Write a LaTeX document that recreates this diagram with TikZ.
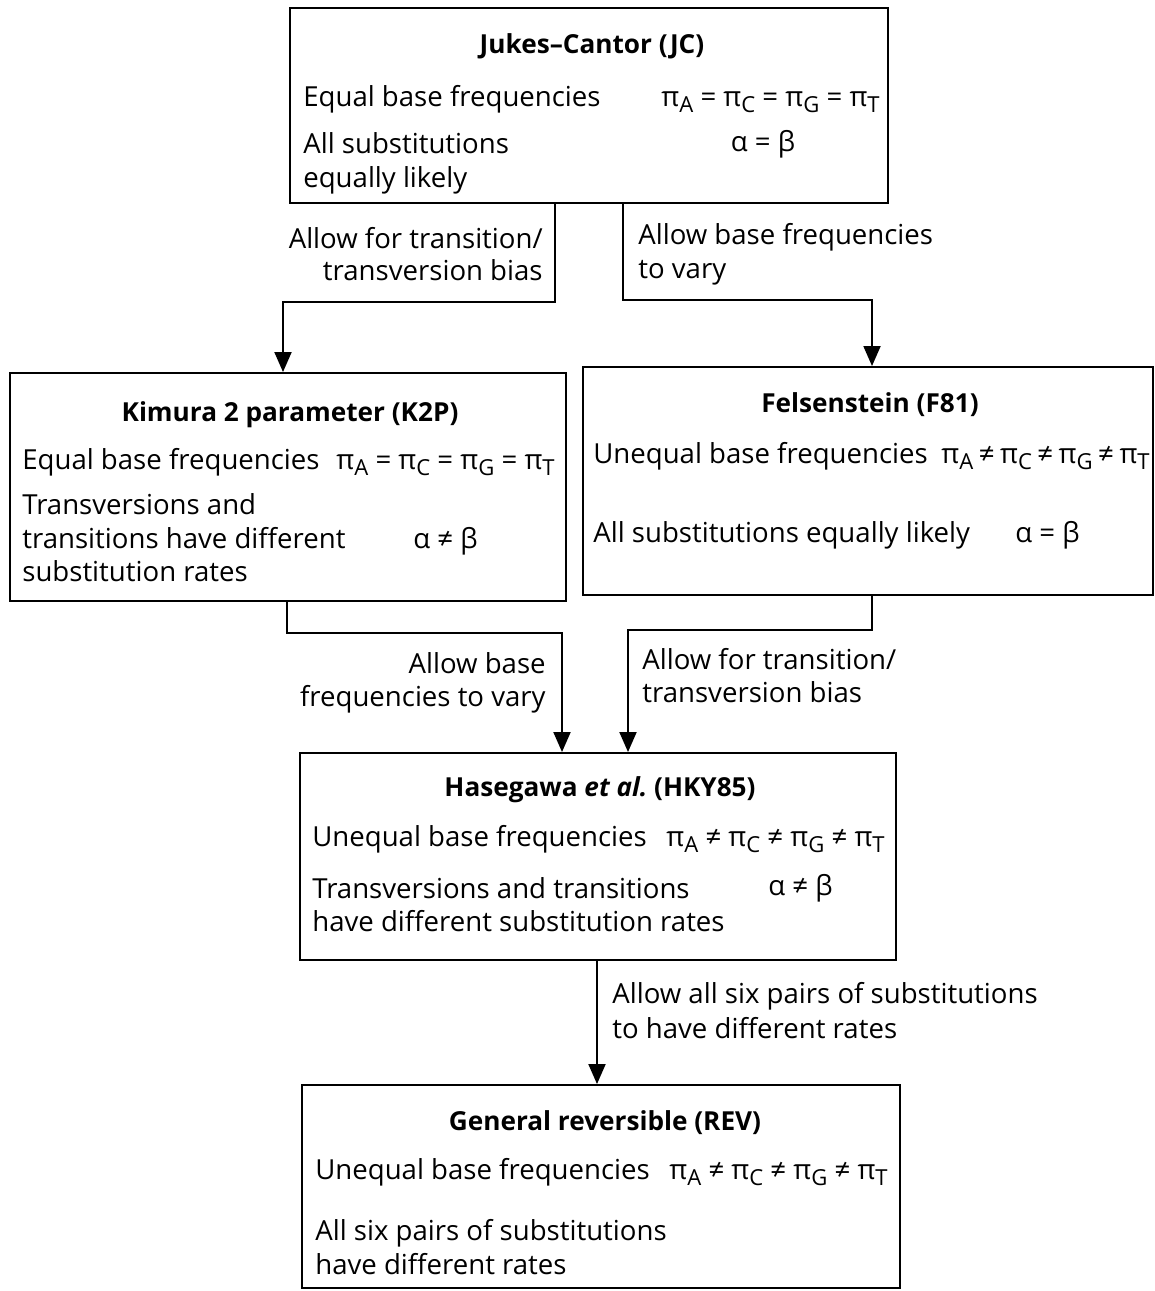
\documentclass[tikz,border=0pt]{standalone}
\usepackage{fontspec}
\usepackage{graphicx}
\setmainfont{Open Sans}
\usetikzlibrary{arrows.meta,fit,calc}
\newcommand{\fs}{\fontsize{15.7}{19}\selectfont}
\newcommand{\fst}{\fontsize{14.9}{19}\selectfont\bfseries}
\newcommand{\pis}[1]{π\raisebox{-0.4ex}{\scalebox{0.8}{#1}}}
\newcommand{\eqf}{\pis{A} = \pis{C} = \pis{G} = \pis{T}}
\newcommand{\neqf}{\pis{A} ≠ \pis{C} ≠ \pis{G} ≠ \pis{T}}
\newcommand{\tsp}{\hspace{0.2em}}
\newcommand{\neqft}{\pis{A}\tsp≠\tsp\pis{C}\tsp≠\tsp\pis{G}\tsp≠\tsp\pis{T}}
\tikzset{
  box/.style={draw, line width=1.1pt, inner sep=0pt},
  txt/.style={inner sep=0pt, font=\fs, anchor=mid west, yshift=-0.08cm},
  rtxt/.style={inner sep=0pt, font=\fs, anchor=mid east, yshift=-0.08cm},
  ctxt/.style={inner sep=0pt, font=\fs, anchor=mid, yshift=-0.08cm},
  ttl/.style={inner sep=0pt, font=\fst, anchor=mid, yshift=-0.08cm},
  conn/.style={line width=1.1pt, -{Triangle[length=0.4cm,width=0.34cm]}},
}
\begin{document}
\begin{tikzpicture}[x=0.02cm,y=-0.02cm]
\useasboundingbox (0,0) rectangle (1155,1291);
% box corners
\coordinate (jc1) at (290,8);   \coordinate (jc2) at (888,203);
\coordinate (k1) at (10,373);   \coordinate (k2) at (566,601);
\coordinate (f1) at (583,367);  \coordinate (f2) at (1153,595);
\coordinate (h1) at (300,753);  \coordinate (h2) at (896,960);
\coordinate (r1) at (302,1085); \coordinate (r2) at (900,1288);
\node[box, fit=(jc1)(jc2)] (jc) {};
\node[box, fit=(k1)(k2)] (k2p) {};
\node[box, fit=(f1)(f2)] (f81) {};
\node[box, fit=(h1)(h2)] (hky) {};
\node[box, fit=(r1)(r2)] (rev) {};
% JC text
\node[ttl] (jct) at (592,45) {Jukes–Cantor (JC)};
\node[txt] (jca) at (303,98) {Equal base frequencies};
\node[rtxt] (jcb) at (880,98) {\eqf};
\node[txt] (jcc) at (303,145) {All substitutions};
\node[txt] (jcd) at (303,179) {equally likely};
\node[ctxt] (jce) at (763,143) {α = β};
% K2P text
\node[ttl] (kt) at (290,413) {Kimura 2 parameter (K2P)};
\node[txt] (ka) at (22,461) {Equal base frequencies};
\node[rtxt] (kb) at (555,461) {\eqf};
\node[txt] (kc) at (22,506) {Transversions and};
\node[txt] (kd) at (22,540) {transitions have different};
\node[txt] (ke) at (22,573) {substitution rates};
\node[txt] (kf) at (413,540) {α ≠ β};
% F81 text
\node[ttl] (ft) at (870,404) {Felsenstein (F81)};
\node[txt] (fa) at (593,455) {Unequal base frequencies};
\node[rtxt] (fb) at (1150,455) {\neqft};
\node[txt] (fc) at (593,534) {All substitutions equally likely};
\node[txt] (fd) at (1015,534) {α = β};
% HKY text
\node[ttl] (ht) at (600,788) {Hasegawa \textit{et al.}\ (HKY85)};
\node[txt] (ha) at (312,838) {Unequal base frequencies};
\node[rtxt] (hb) at (885,838) {\neqf};
\node[txt] (hc) at (312,890) {Transversions and transitions};
\node[txt] (hd) at (768,887) {α ≠ β};
\node[txt] (he) at (312,923) {have different substitution rates};
% REV text
\node[ttl] (rt) at (605,1122) {General reversible (REV)};
\node[txt] (ra) at (315,1171) {Unequal base frequencies};
\node[rtxt] (rb) at (888,1171) {\neqf};
\node[txt] (rc) at (315,1232) {All six pairs of substitutions};
\node[txt] (rd) at (315,1266) {have different rates};
% arrow labels
\node[rtxt] (l1a) at (543,240) {Allow for transition/};
\node[rtxt] (l1b) at (543,272) {transversion bias};
\node[txt] (l2a) at (638,236) {Allow base frequencies};
\node[txt] (l2b) at (638,270) {to vary};
\node[rtxt] (l3a) at (546,665) {Allow base};
\node[rtxt] (l3b) at (546,698) {frequencies to vary};
\node[txt] (l4a) at (642,661) {Allow for transition/};
\node[txt] (l4b) at (642,694) {transversion bias};
\node[txt] (l5a) at (612,995) {Allow all six pairs of substitutions};
\node[txt] (l5b) at (612,1030) {to have different rates};
% connectors
\coordinate (c1a) at (555,302); \coordinate (c1b) at (283,302);
\coordinate (c2a) at (623,300); \coordinate (c2b) at (872,300);
\coordinate (c3a) at (287,633); \coordinate (c3b) at (562,633);
\coordinate (c4a) at (872,630); \coordinate (c4b) at (628,630);
\coordinate (c5) at (597,960);
\draw[conn] (jc.south -| c1a) -- (c1a) -- (c1b) -- (k2p.north -| c1b);
\draw[conn] (jc.south -| c2a) -- (c2a) -- (c2b) -- (f81.north -| c2b);
\draw[conn] (k2p.south -| c3a) -- (c3a) -- (c3b) -- (hky.north -| c3b);
\draw[conn] (f81.south -| c4a) -- (c4a) -- (c4b) -- (hky.north -| c4b);
\draw[conn] (hky.south -| c5) -- (rev.north -| c5);
\end{tikzpicture}
\end{document}
